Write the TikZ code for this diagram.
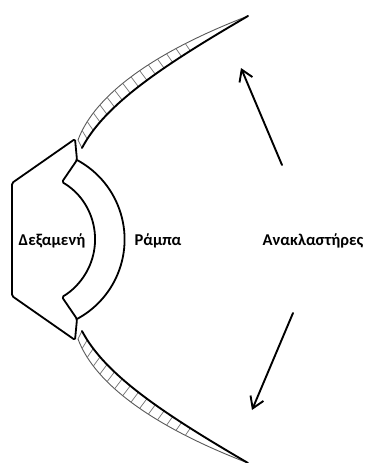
\documentclass[tikz,border=0pt]{standalone}
\usepackage{fontspec}
\setmainfont{Carlito}
\usetikzlibrary{arrows.meta}
\begin{document}
\begin{tikzpicture}[x=1pt,y=-1pt,
  outline/.style={line width=1.8pt, line join=round, line cap=round},
  rim/.style={line width=1.9pt, line cap=round},
  lip/.style={line width=0.9pt, draw=black!65},
  rung/.style={line width=0.7pt, draw=black!55},
  ray/.style={line width=1.9pt, line cap=round,
    -{Straight Barb[length=11pt,width=14pt,line width=1.9pt]}},
  label/.style={font=\bfseries\fontsize{16.5}{20}\selectfont, inner sep=0pt}]

\fill[white] (0,0) rectangle (366,463);
\useasboundingbox (0,0) rectangle (366,463);

% tank outline with the inner (concave) wall
\draw[outline, rounded corners=1.5pt]
  (12,296) -- (12,183) -- (75,139) -- (77,160) -- (62,182)
  arc[start angle=-59.7, end angle=59.7, radius=66.6]
  -- (77,319) -- (75,340) -- cycle;

% outer edge of the ramp
\draw[outline] (77,160) arc[start angle=-61.8, end angle=61.8, radius=90.2];

% curve parameters of the ladder rungs (roughly even spacing)
\def\rungs{0,0.069,0.135,0.2,0.26,0.318,0.373,0.427,0.478,0.528,0.575,0.622,0.666,0.71,0.752}

% upper reflector band
\coordinate (tk0) at (82,148);
\coordinate (tk1) at (105,104);
\coordinate (tk2) at (164,65);
\coordinate (ttip) at (248,16);
\coordinate (tn0) at (78,140);
\coordinate (tn1) at (95,94.2);
\coordinate (tn2) at (155.7,51.4);
\draw[lip] (tn0) .. controls (tn1) and (tn2) .. (ttip);
\foreach \t in \rungs {
  \path (tk0) .. controls (tk1) and (tk2) .. (ttip) coordinate[pos=\t] (ka);
  \path (tn0) .. controls (tn1) and (tn2) .. (ttip) coordinate[pos=\t] (na);
  \draw[rung] (ka) -- (na);
}
\draw[rim] (tk0) .. controls (tk1) and (tk2) .. (ttip);

% lower reflector band
\coordinate (bk0) at (82,331);
\coordinate (bk1) at (105,375);
\coordinate (bk2) at (164,414);
\coordinate (btip) at (248,463);
\coordinate (bn0) at (78,339);
\coordinate (bn1) at (95,384.8);
\coordinate (bn2) at (155.7,427.6);
\draw[lip] (bn0) .. controls (bn1) and (bn2) .. (btip);
\foreach \t in \rungs {
  \path (bk0) .. controls (bk1) and (bk2) .. (btip) coordinate[pos=\t] (ka);
  \path (bn0) .. controls (bn1) and (bn2) .. (btip) coordinate[pos=\t] (na);
  \draw[rung] (ka) -- (na);
}
\draw[rim] (bk0) .. controls (bk1) and (bk2) .. (btip);

% arrows
\coordinate (u0) at (282,165);
\coordinate (u1) at (241,68);
\coordinate (d0) at (293,313);
\coordinate (d1) at (252,410);
\draw[ray] (u0) -- (u1);
\draw[ray] (d0) -- (d1);

% labels
\node[label] (tank) at (52,241) {Δεξαμενή};
\node[label] (ramp) at (158,241) {Ράμπα};
\node[label] (refl) at (313,241) {Ανακλαστήρες};
\end{tikzpicture}
\end{document}
